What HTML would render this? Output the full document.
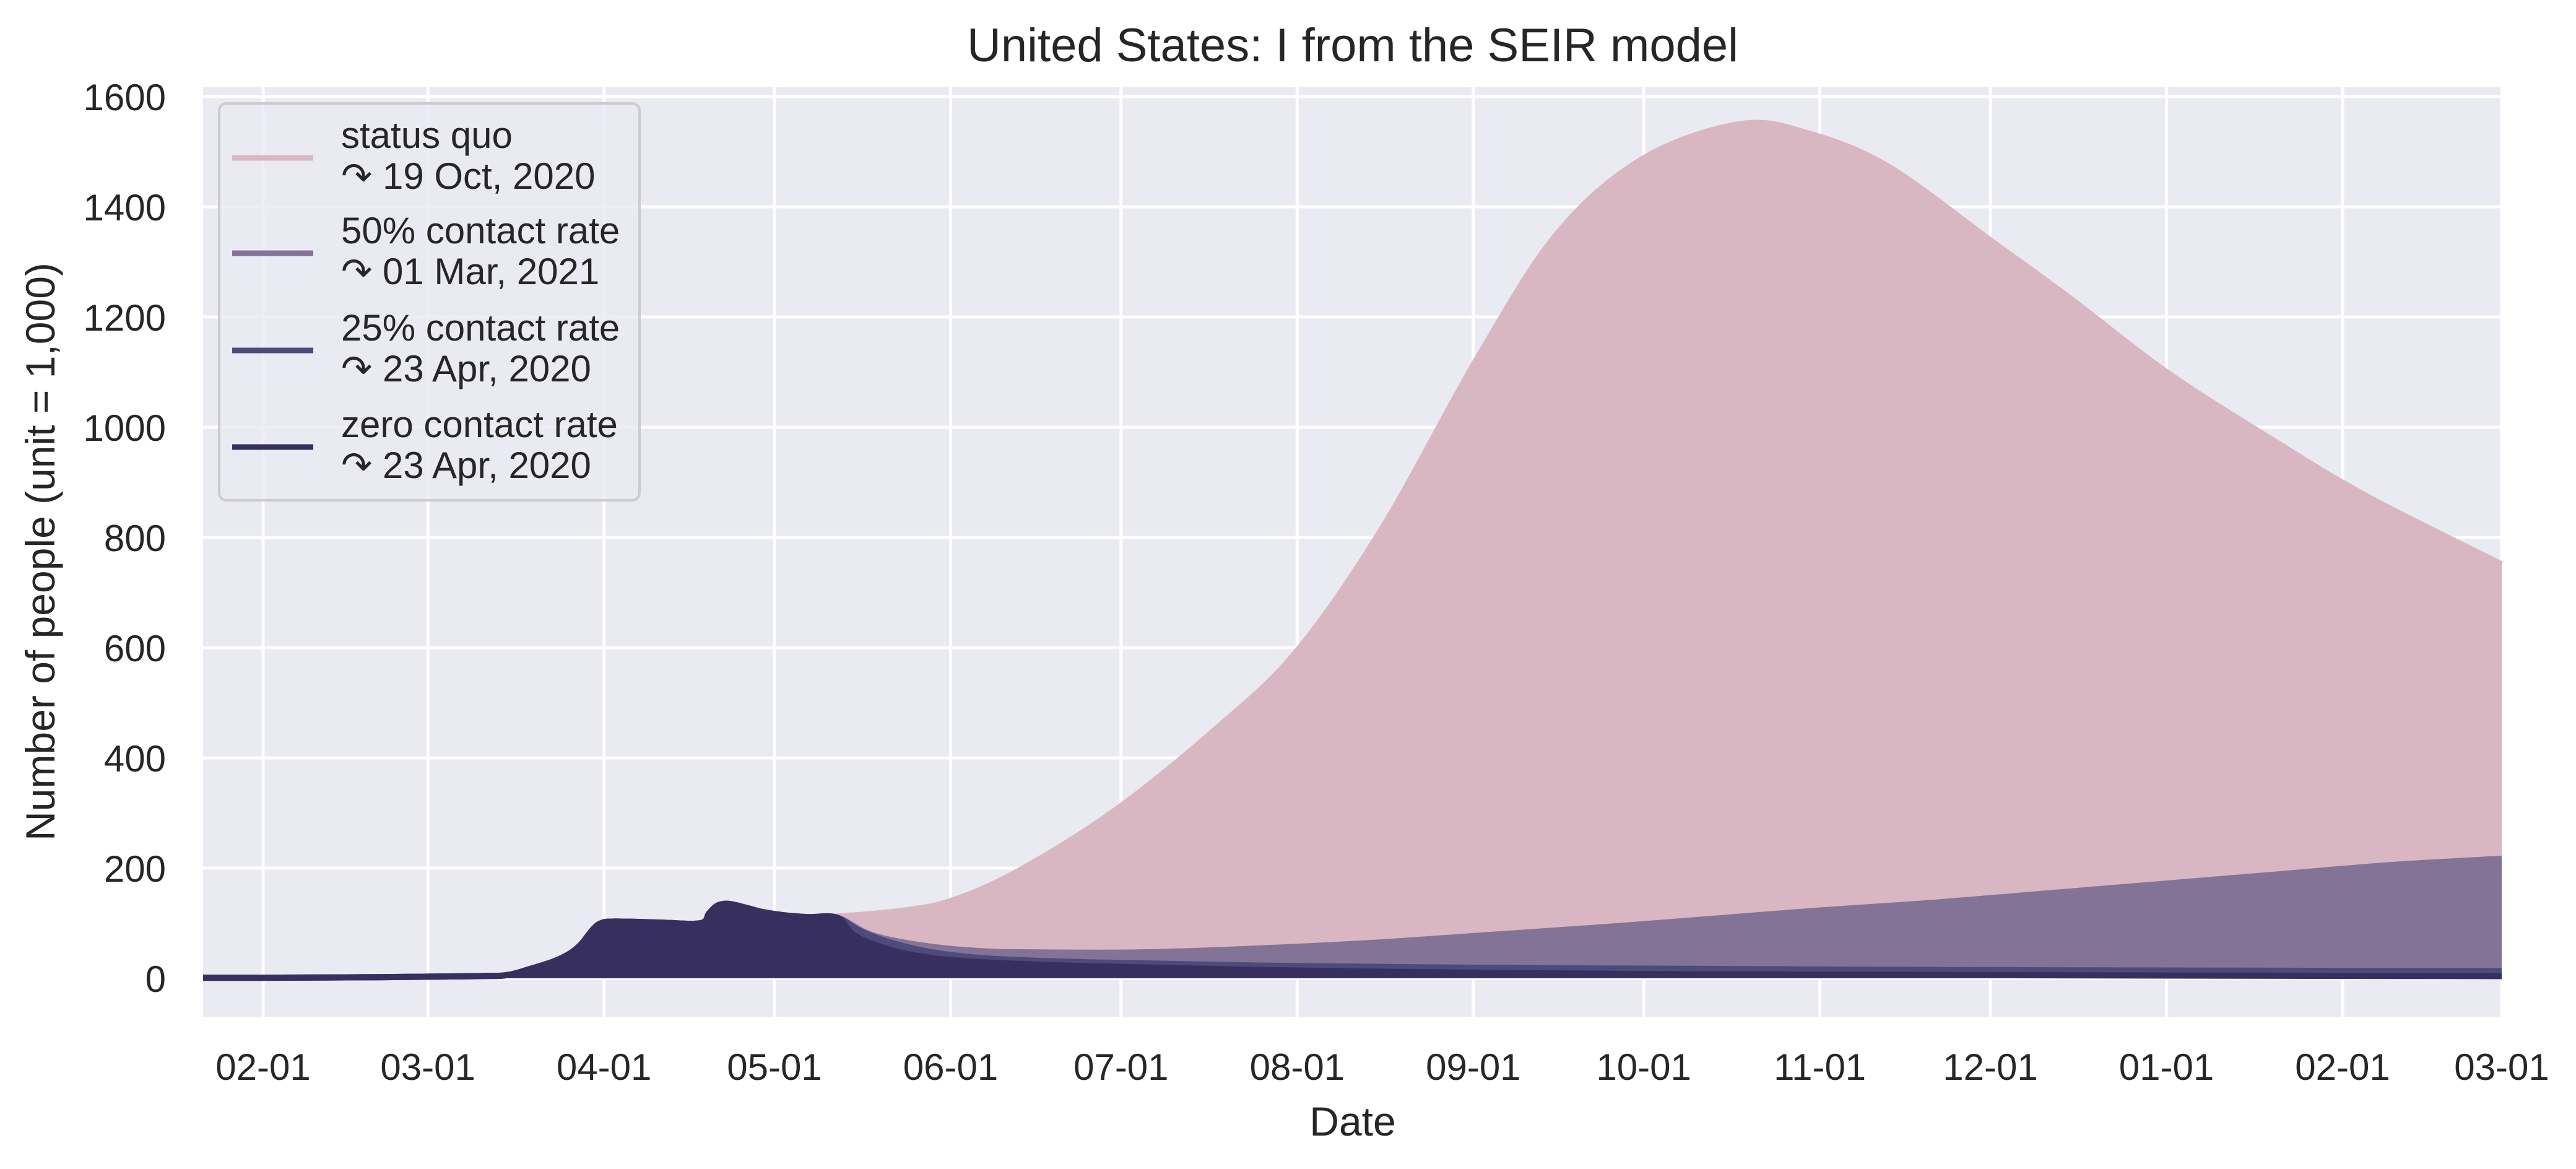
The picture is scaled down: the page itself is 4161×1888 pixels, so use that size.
<!DOCTYPE html>
<html><head><meta charset="utf-8">
<style>
html,body{margin:0;padding:0;background:#fff;}
svg{display:block;font-family:"Liberation Sans",sans-serif;}
</style></head>
<body>
<svg id="chart" width="4161" height="1888" viewBox="0 0 4161 1888" xmlns="http://www.w3.org/2000/svg">
<rect x="328" y="140" width="3713" height="1503" fill="#eaeaf2"/>
<g id="grid"></g>
<g id="series"></g>
<g id="yticks"></g>
<g id="xticks"></g>
<text x="2185" y="99" font-size="76" text-anchor="middle" fill="#262626">United States: I from the SEIR model</text>
<text x="2185" y="1834" font-size="66" text-anchor="middle" fill="#262626">Date</text>
<text transform="translate(88,891) rotate(-90)" font-size="66" text-anchor="middle" fill="#262626">Number of people (unit = 1,000)</text>
<g id="legend">
<rect x="354" y="167" width="679" height="641" rx="12" fill="#eaeaf2" fill-opacity="0.8" stroke="#cccccc" stroke-width="4"/>
</g>
</svg>
<script>
// Data: days since 2020-02-01, values in thousands
const commonDays = [-11,0,20,38,43,47,51,54,56,58,59.5,62,70,77,78.5,80,82,85,88,92,96,101];
const commonVals = [1,1,2,4,6,17,30,45,62,88,100,103,101,100,118,132,135,128,120,114,111,110];
const statusDays = [101,112,121,133,150,168,182,197,214,228,243,260,272,286,304,318,335,353,370,394];
const statusVals = [112,122,140,195,305,455,594,817,1130,1354,1488,1550,1533,1473,1339,1234,1100,981,876,751];
const halfDays = [101,107,115,125,135,155,175,195,215,235,254,274,294,314,334,354,374,394];
const halfVals = [110,79,61,50,47,47,54,64,78,92,107,123,137,154,171,188,205,217];
const quarterDays = [101,105,111,119,129,145,175,215,254,294,334,394];
const quarterVals = [110,86,63,45,35,29,23,19,17,15,14,13];
const zeroDays = [101,104,109,115,125,145,175,215,254,294,334,394];
const zeroVals = [110,78,56,41,30,22,15,10,7,6,5,4];
const yTicks = [0,200,400,600,800,1000,1200,1400,1600];
const xTickMonths = ["2020-02-01","2020-03-01","2020-04-01","2020-05-01","2020-06-01","2020-07-01","2020-08-01","2020-09-01","2020-10-01","2020-11-01","2020-12-01","2021-01-01","2021-02-01","2021-03-01"];
const legendLabels = [["status quo","\u21B7 19 Oct, 2020"],["50% contact rate","\u21B7 01 Mar, 2021"],["25% contact rate","\u21B7 23 Apr, 2020"],["zero contact rate","\u21B7 23 Apr, 2020"]];

const NS="http://www.w3.org/2000/svg";
const L=328,R=4041,T=140,B=1643;
const X0=425, PXD=(4041-425)/394;
const xs=d=>X0+d*PXD;
const ys=v=>1580-0.89*v;
const dayOf=s=>Math.round((Date.parse(s)-Date.parse("2020-02-01"))/86400000);
const colors=["#d8b7c3","#837396","#4d4a7c","#37305f"];
const names=["status-quo","fifty-pct","twenty-five-pct","zero"];
const grid=document.getElementById('grid');
const yg=document.getElementById('yticks');
const xg=document.getElementById('xticks');
yTicks.forEach(v=>{
  const l=document.createElementNS(NS,'line');
  l.setAttribute('x1',L);l.setAttribute('x2',R);l.setAttribute('y1',ys(v));l.setAttribute('y2',ys(v));
  l.setAttribute('stroke','#fff');l.setAttribute('stroke-width','5');
  
  
  grid.appendChild(l);
  const t=document.createElementNS(NS,'text');
  t.setAttribute('x',268);t.setAttribute('y',ys(v)+22);t.setAttribute('text-anchor','end');
  t.setAttribute('font-size','60');t.setAttribute('fill','#262626');t.textContent=v;
  
  
  yg.appendChild(t);
});
xTickMonths.forEach(s=>{
  const d=dayOf(s),x=xs(d);
  const l=document.createElementNS(NS,'line');
  l.setAttribute('x1',x);l.setAttribute('x2',x);l.setAttribute('y1',T);l.setAttribute('y2',B);
  l.setAttribute('stroke','#fff');l.setAttribute('stroke-width','5');
  
  
  grid.appendChild(l);
  const t=document.createElementNS(NS,'text');
  t.setAttribute('x',x);t.setAttribute('y',1744);t.setAttribute('text-anchor','middle');
  t.setAttribute('font-size','60');t.setAttribute('fill','#262626');t.textContent=s.slice(5);
  
  
  xg.appendChild(t);
});
const sg=document.getElementById('series');
const all=[[statusDays,statusVals],[halfDays,halfVals],[quarterDays,quarterVals],[zeroDays,zeroVals]];
function smoothPath(pts){
  let d="M"+pts[0][0]+","+pts[0][1];
  for(let i=0;i<pts.length-1;i++){
    const p0=pts[Math.max(0,i-1)],p1=pts[i],p2=pts[i+1],p3=pts[Math.min(pts.length-1,i+2)];
    const c1=[p1[0]+(p2[0]-p0[0])/6,p1[1]+(p2[1]-p0[1])/6];
    const c2=[p2[0]-(p3[0]-p1[0])/6,p2[1]-(p3[1]-p1[1])/6];
    d+=" C"+c1[0]+","+c1[1]+" "+c2[0]+","+c2[1]+" "+p2[0]+","+p2[1];
  }
  return d;
}
all.forEach((s,i)=>{
  const pts=[];
  commonDays.forEach((d,j)=>{ if(d<s[0][0]) pts.push([xs(d),ys(commonVals[j])]); });
  s[0].forEach((d,j)=>pts.push([xs(d),ys(s[1][j])]));
  pts[0][0]=L;
  const line=smoothPath(pts);
  const f=document.createElementNS(NS,'path');
  f.setAttribute('d',line+" L"+R+","+ys(0)+" L"+L+","+ys(0)+" Z");
  f.setAttribute('fill',colors[i]);
  
  
  sg.appendChild(f);
  const p=document.createElementNS(NS,'path');
  p.setAttribute('d',line);p.setAttribute('fill','none');
  p.setAttribute('stroke',colors[i]);p.setAttribute('stroke-width','10');
  
  
  sg.appendChild(p);
});
const lg=document.getElementById('legend');
const ly=[255,409,566,722];
legendLabels.forEach((lab,i)=>{
  const l=document.createElementNS(NS,'line');
  l.setAttribute('x1',375);l.setAttribute('x2',506);l.setAttribute('y1',ly[i]);l.setAttribute('y2',ly[i]);
  l.setAttribute('stroke',colors[i]);l.setAttribute('stroke-width','9');
  
  
  lg.appendChild(l);
  lab.forEach((txt,k)=>{
    const t=document.createElementNS(NS,'text');
    t.setAttribute('x',551);t.setAttribute('y',ly[i]-16+k*66);
    t.setAttribute('font-size','60');t.setAttribute('fill','#262626');t.textContent=txt;
    
    
    lg.appendChild(t);
  });
});
</script>
</body></html>
